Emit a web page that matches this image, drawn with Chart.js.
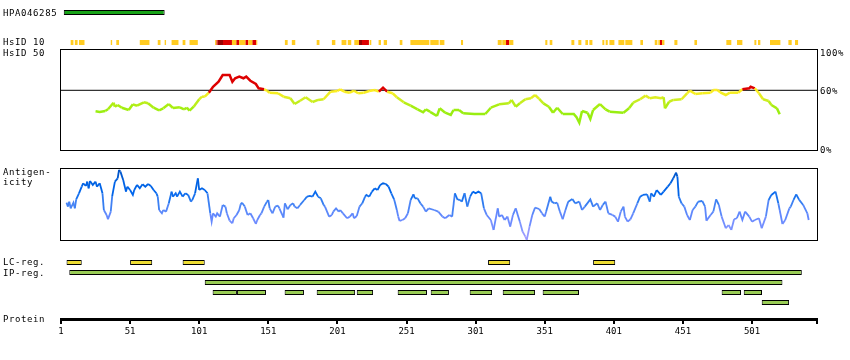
<!DOCTYPE html>
<html>
<head>
<meta charset="utf-8">
<script src="https://cdn.jsdelivr.net/npm/chart.js@4.4.1/dist/chart.umd.min.js"></script>
<style>
  html, body { margin: 0; padding: 0; background: #fff; }
</style>
</head>
<body>
<canvas id="protChart" width="850" height="360"></canvas>
<script>
// protein length and axis ticks
const protLen = 548;
const tickVals = [1, 51, 101, 151, 201, 251, 301, 351, 401, 451, 501, 548];

// antigen fragment
const hpaRange = [[3, 76]];

// HsID 10 blocks
const hs10Gold = [[8, 10], [11, 13], [14, 18], [37, 38], [41, 43], [58, 65], [71, 73], [76, 77], [81, 86], [89, 91], [94, 100],
  [112.5, 113.4], [124.7, 127.8], [129.8, 134.4], [136.5, 139.4], [142.3, 143], [163, 165], [168, 170.5], [186, 188],
  [197, 199.5], [204, 207.5], [208.5, 211], [213.2, 216.6], [224.3, 225.5], [230.8, 232.5], [234.5, 236.9], [246.1, 248],
  [253.8, 267.5], [268.2, 274.3], [275, 278.4], [290.4, 291.9], [317, 319.9], [320.3, 323], [325.2, 328.3], [351.4, 352.9],
  [354.6, 356.5], [370.3, 372.4], [375.3, 377.5], [380.4, 382.3], [383.3, 385.5], [392.7, 394.1], [395.1, 396.6],
  [397.8, 401.4], [404.3, 408.6], [409.3, 414.4], [420.2, 422.1], [430.6, 432.5], [433.2, 434.4], [435.9, 437.6],
  [444.8, 447], [459.3, 461.2], [482.4, 486], [490.1, 494], [502.7, 504.1], [505.3, 507], [514, 521.5], [527.3, 529.7],
  [532.1, 534.3]];
const hs10Red = [[113.4, 114.3], [118.2, 124.7], [127.8, 129.8], [134.4, 136.5], [139.4, 142.3], [218.8, 223.8],
  [323, 325.2], [434.4, 435.9]];
const hs10Dark = [[114.3, 118.2], [216.6, 218.8]];

// HsID 50 identity (%)
const hsPos = [26, 29, 33, 35, 39, 40, 42, 45, 50, 53, 56, 61, 64, 68, 72, 75, 79, 82, 87, 90, 92, 94, 97, 101, 103, 105,
  108, 111, 115, 118, 123, 125, 127, 130, 133, 135, 138, 142, 144, 148, 150, 152, 158, 162, 167, 170, 174, 178, 183, 187,
  191, 196, 201, 203, 206, 210, 213, 216, 220, 224, 228, 231, 234, 237, 241, 244, 249, 254, 259, 263, 265, 268, 269, 273,
  275, 279, 283, 285, 289, 292, 300, 308, 312, 318, 325, 327, 330, 333, 337, 341, 344, 347, 350, 354, 357, 360, 364, 372,
  374, 376, 378, 382, 384, 386, 391, 395, 398, 408, 412, 415, 420, 424, 427, 431, 435, 437, 438, 441, 444, 450, 454, 456,
  460, 465, 471, 473, 476, 478, 482, 485, 491, 494, 499, 500, 503, 506, 509, 513, 515, 519, 521];
const hsVal = [38.9, 38.2, 39.2, 40.9, 47.5, 43.5, 45.2, 42.5, 40.2, 45.9, 44.5, 47.9, 46.9, 42.5, 39.9, 41.9, 46.2, 42.2,
  42.9, 40.9, 42.5, 39.5, 43.5, 50.9, 53.6, 53.6, 57.6, 63.6, 68.6, 75.4, 75.4, 68.6, 72.1, 73.7, 72.1, 73.7, 69.6, 66.3,
  62, 61, 59.6, 57.6, 57, 53.6, 52, 46.2, 49.5, 53, 48.2, 50.3, 51, 58.6, 59.3, 61, 58.6, 57.6, 59.6, 57, 57.6, 59.3, 60.3,
  58.6, 62.6, 58.6, 57, 53, 47.9, 44.5, 40.9, 37.9, 40.9, 38.5, 37.5, 34.2, 41.9, 37.5, 35.2, 40.2, 40.2, 36.9, 36.2, 36.2,
  42.5, 45.9, 46.9, 50.3, 43.5, 46.9, 51, 52, 55.3, 51.3, 46.9, 43.5, 37.5, 42.5, 36.2, 36.2, 32.9, 27.5, 39.2, 37.5, 31.2,
  40.2, 46.2, 40.9, 38.5, 37.5, 41.9, 47.5, 51, 54.6, 52, 53, 52, 53, 41.9, 48.5, 50.3, 51, 57, 59.6, 56.3, 57, 57.6, 60.3,
  60.3, 58, 55.3, 57.6, 57.6, 61, 62, 63.6, 62, 57, 51, 49.2, 45.2, 41.9, 35.9];

// antigenicity (relative, 0 = panel bottom, 100 = panel top)
const agPos = [5, 6, 7, 8, 10, 11, 12, 14, 16, 17, 19, 20, 21, 22, 24, 26, 27, 29, 31, 32, 34, 35, 37, 38, 40, 42, 43, 44,
  46, 48, 49, 51, 53, 54, 56, 58, 60, 62, 64, 66, 68, 70, 71, 72, 74, 75, 77, 79, 81, 82, 84, 85, 87, 89, 91, 93, 95, 96,
  98, 100, 101, 103, 105, 107, 109, 110, 111, 113, 114, 116, 118, 120, 121, 123, 125, 126, 128, 130, 131, 132, 134, 136,
  138, 140, 142, 143, 145, 146, 148, 150, 151, 152, 154, 156, 158, 159, 162, 163, 165, 167, 169, 170, 172, 174, 177, 179,
  181, 183, 185, 187, 189, 191, 192, 195, 197, 198, 200, 202, 203, 205, 208, 210, 212, 213, 215, 217, 219, 221, 222, 224,
  226, 228, 230, 232, 234, 236, 238, 240, 242, 244, 245, 246, 248, 250, 252, 254, 256, 257, 259, 261, 263, 265, 267, 271,
  274, 277, 279, 282, 284, 286, 288, 289, 291, 293, 295, 297, 299, 301, 303, 305, 307, 309, 312, 314, 317, 318, 320, 322,
  324, 326, 328, 330, 333, 335, 337, 338, 340, 342, 344, 347, 349, 351, 352, 355, 356, 358, 360, 362, 364, 366, 368, 371,
  373, 376, 378, 380, 384, 386, 389, 391, 393, 395, 397, 400, 402, 404, 406, 408, 409, 411, 413, 415, 418, 420, 422, 425,
  427, 428, 430, 432, 435, 437, 440, 442, 444, 446, 447, 448, 450, 452, 454, 456, 458, 460, 462, 465, 467, 468, 471, 473,
  475, 477, 479, 482, 484, 486, 488, 490, 492, 494, 496, 499, 501, 503, 506, 508, 511, 513, 515, 518, 520, 521, 523, 525,
  528, 529, 531, 533, 535, 538, 541, 542];
const agVal = [52.3, 46.8, 53.7, 44.4, 52.3, 44.4, 56.9, 65.3, 74.5, 79.2, 75.5, 81.5, 72.2, 82.4, 76.9, 81.5, 74.5, 79.2,
  65.3, 42.1, 35.2, 29.2, 39.8, 60.6, 81.5, 86.1, 97.7, 95.4, 83.8, 67.6, 74.5, 69.9, 63, 69.9, 76.9, 72.2, 77.8, 74.5, 78.2,
  75.5, 69.9, 65.3, 60.6, 42.1, 37.5, 42.1, 39.8, 51.4, 67.6, 60.6, 65.3, 60.6, 67.6, 60.6, 65.3, 63, 53.7, 56, 65.3, 86.1,
  69.9, 72.2, 69.9, 65.3, 37.5, 25.9, 37.5, 32.9, 37.5, 32.9, 49.1, 46.8, 37.5, 27.3, 23.6, 30.6, 35.2, 42.1, 50, 52.3, 46.8,
  35.2, 37.5, 30.6, 22.7, 28.2, 35.2, 37.5, 46.8, 53.7, 56, 44.4, 37.5, 46.8, 48.1, 44.4, 31.5, 51.4, 43.1, 49.1, 51.4, 46.8,
  44.4, 49.1, 56, 60.6, 61.6, 60.6, 67.6, 60.6, 58.3, 49.1, 46.8, 32.9, 35.2, 39.8, 44.4, 39.8, 42.1, 37.5, 30.6, 32.9,
  37.5, 30.6, 33.8, 46.8, 51.4, 60.6, 63, 60.6, 67.6, 72.2, 69.9, 76.9, 79.2, 78.2, 74.5, 65.3, 56.9, 42.1, 32.9, 26.9,
  28.2, 30.6, 37.5, 56, 63.9, 58.3, 58.3, 51.4, 46.8, 39.8, 44.4, 42.1, 39.8, 32.9, 30.6, 35.2, 32.9, 65.3, 56, 56.9, 53.7,
  65.3, 46.8, 60.6, 67.6, 65.3, 67.6, 65.3, 44.4, 35.2, 28.2, 14.4, 44.4, 32.9, 35.2, 28.2, 32.9, 19, 35.2, 44.4, 25.9, 12,
  5.1, 0.5, 19, 35.2, 45.4, 43.5, 37.5, 32.9, 39.8, 60.6, 53.7, 51.4, 52.3, 39.8, 29.2, 42.1, 53.7, 57.4, 51.4, 53.7, 42.1,
  46.8, 56.9, 46.8, 51.4, 42.1, 49.1, 53.7, 37.5, 35.2, 32.9, 25.9, 39.8, 46.8, 32.9, 25.9, 29.2, 37.5, 51.4, 60.6, 63,
  63.9, 53.7, 65.3, 60.6, 69.9, 63, 67.6, 74.5, 79.2, 86.1, 94, 88.4, 60.6, 51.4, 46.8, 35.2, 28.2, 42.1, 46.8, 53.7, 54.6,
  46.8, 27.3, 35.2, 39.8, 56.9, 49.1, 32.9, 16.7, 21.3, 14.4, 29.2, 30.6, 39.8, 28.2, 39.8, 32.9, 25.9, 28.2, 30.6, 16.7,
  32.9, 56, 63, 67.6, 51.4, 42.1, 22.7, 28.2, 44.4, 46.8, 56, 63.9, 56.5, 49.1, 37.5, 28.2];

// low complexity and interpro regions
const lcRegions = [[5, 16], [51, 67], [89, 105], [310, 326], [386, 402]];
const ipRow1 = [[7, 537]];
const ipRow2 = [[105, 523]];
const ipRow3 = [[110.7, 128.3], [128.3, 149.3], [162.8, 176.8], [186, 213.8], [215, 226.8], [244.6, 265.8], [268.5, 281.7],
  [296.7, 312.9], [320.6, 344], [349.5, 375.8], [479, 493], [495, 508.2]];
const ipRow4 = [[508, 527.8]];

// row positions on the "rows" scale
const ROW = { hpa: -25, hs10: -22, lc: 0, ip1: 1, ip2: 2, ip3: 3, ip4: 4, axis: 5.68 };

// min/max so that value v0 lands on pixel p0 and v1 on p1 (chart area 0..360)
function fit(v0, p0, v1, p1) {
  const H = 360;
  const unit = (p0 - p1) / (v1 - v0);
  const min = v0 - (H - p0) / unit;
  return { min: min, max: min + H / unit };
}

function hexToRgb(h) {
  return [parseInt(h.slice(1, 3), 16), parseInt(h.slice(3, 5), 16), parseInt(h.slice(5, 7), 16)];
}
function ramp(stops, v) {
  if (v <= stops[0][0]) return stops[0][1];
  for (let i = 1; i < stops.length; i++) {
    if (v <= stops[i][0]) {
      const t = (v - stops[i - 1][0]) / (stops[i][0] - stops[i - 1][0]);
      const a = hexToRgb(stops[i - 1][1]), b = hexToRgb(stops[i][1]);
      const c = a.map((x, k) => Math.round(x + (b[k] - x) * t));
      return `rgb(${c[0]},${c[1]},${c[2]})`;
    }
  }
  return stops[stops.length - 1][1];
}
const hsStops = [[38, '#99ee11'], [44, '#aaee11'], [50, '#ccee22'], [55, '#eeee22'], [60.4, '#ffee22']];
function hsColor(v) {
  return v > 60.5 ? '#dd0000' : ramp(hsStops, v);
}
const agStops = [[0, '#aa99ff'], [15, '#8899ff'], [30, '#6688ff'], [45, '#5588f8'], [58, '#2277ee'], [66, '#0066ee'],
  [85, '#0060dd'], [96, '#0050c0']];

function bars(ranges, row) {
  return ranges.map(r => ({ x: r, y: row }));
}

const frame = '#000';
const boxBar = { type: 'bar', indexAxis: 'y', xAxisID: 'x', yAxisID: 'y', grouped: false, maxBarThickness: 5,
  borderWidth: 1, borderColor: frame, borderSkipped: false };
const flatBar = { type: 'bar', indexAxis: 'y', xAxisID: 'x', yAxisID: 'y', grouped: false, maxBarThickness: 5,
  borderWidth: 0 };

Chart.defaults.font.family = "'DejaVu Sans Mono', monospace";
Chart.defaults.font.size = 9;
Chart.defaults.color = '#000';

const panelPlugin = {
  id: 'panels',
  beforeDatasetsDraw(chart) {
    const { ctx, scales } = chart;
    const x0 = Math.round(scales.x.getPixelForValue(1)) - 0.5;
    const x1 = Math.round(scales.x.getPixelForValue(protLen)) + 0.5;
    ctx.save();
    ctx.strokeStyle = frame;
    ctx.lineWidth = 1;
    // identity panel
    let t = Math.round(scales.yHs.getPixelForValue(102)) + 0.5;
    let b = Math.round(scales.yHs.getPixelForValue(0)) + 0.5;
    ctx.strokeRect(x0, t, x1 - x0, b - t);
    // antigenicity panel
    t = Math.round(scales.yAg.getPixelForValue(100)) + 0.5;
    b = Math.round(scales.yAg.getPixelForValue(0)) + 0.5;
    ctx.strokeRect(x0, t, x1 - x0, b - t);
    ctx.restore();
  },
  afterDraw(chart) {
    const { ctx } = chart;
    ctx.save();
    ctx.fillStyle = '#000';
    ctx.font = "9px 'DejaVu Sans Mono'";
    ctx.letterSpacing = '0.6px';
    ctx.textBaseline = 'alphabetic';
    const left = [['HPA046285', 16], ['HsID 10', 45], ['HsID 50', 56], ['Antigen-', 175], ['icity', 185],
      ['LC-reg.', 265], ['IP-reg.', 276], ['Protein', 322]];
    left.forEach(([s, y]) => ctx.fillText(s, 3, y));
    const right = [['100%', 56], ['60%', 94], ['0%', 153]];
    right.forEach(([s, y]) => ctx.fillText(s, 820, y));
    ctx.restore();
  }
};

new Chart(document.getElementById('protChart'), {
  type: 'line',
  data: {
    datasets: [
      { ...boxBar, label: 'HPA046285', data: bars(hpaRange, ROW.hpa), backgroundColor: '#18a318' },
      { ...flatBar, label: 'HsID 10', data: bars(hs10Gold, ROW.hs10), backgroundColor: '#ffcc22' },
      { ...flatBar, label: 'HsID 10 high', data: bars(hs10Red, ROW.hs10), backgroundColor: '#dd0000' },
      { ...flatBar, label: 'HsID 10 top', data: bars(hs10Dark, ROW.hs10), backgroundColor: '#990000' },
      { type: 'line', label: '60%', xAxisID: 'x', yAxisID: 'yHs', data: [{ x: 1, y: 60 }, { x: protLen, y: 60 }],
        borderColor: frame, borderWidth: 1, pointRadius: 0, order: 5 },
      { type: 'line', label: 'HsID 50', xAxisID: 'x', yAxisID: 'yHs',
        data: hsPos.map((p, i) => ({ x: p, y: hsVal[i] })),
        borderColor: '#99ee11', borderWidth: 2.5, pointRadius: 0, tension: 0, order: 1,
        segment: { borderColor: c => hsColor((c.p0.parsed.y + c.p1.parsed.y) / 2) } },
      { type: 'line', label: 'Antigenicity', xAxisID: 'x', yAxisID: 'yAg',
        data: agPos.map((p, i) => ({ x: p, y: agVal[i] })),
        borderColor: '#0066ee', borderWidth: 1.8, pointRadius: 0, tension: 0, order: 1,
        segment: { borderColor: c => ramp(agStops, (c.p0.parsed.y + c.p1.parsed.y) / 2) } },
      { ...boxBar, label: 'LC-reg.', data: bars(lcRegions, ROW.lc), backgroundColor: '#eedd33' },
      { ...boxBar, label: 'IP-reg.', backgroundColor: '#99cc55',
        data: [...bars(ipRow1, ROW.ip1), ...bars(ipRow2, ROW.ip2), ...bars(ipRow3, ROW.ip3), ...bars(ipRow4, ROW.ip4)] }
    ]
  },
  options: {
    responsive: false,
    animation: false,
    devicePixelRatio: 1,
    events: [],
    layout: { padding: { left: 61, right: 33, top: 0, bottom: 0 } },
    plugins: { legend: { display: false }, tooltip: { enabled: false } },
    scales: {
      x: {
        type: 'linear', min: 1, max: protLen, offset: false,
        position: { y: ROW.axis },
        border: { display: true, color: frame, width: 3 },
        grid: { drawOnChartArea: false, drawTicks: true, tickLength: 3, color: frame, lineWidth: 2 },
        ticks: { autoSkip: false, maxRotation: 0, padding: 4, color: '#000',
          callback: v => (v === protLen ? '' : String(v)) },
        afterBuildTicks: s => { s.ticks = tickVals.map(v => ({ value: v })); }
      },
      y: { type: 'linear', display: false, offset: false, grace: 0, reverse: true, min: -26.25, max: 9.75 },
      yHs: { type: 'linear', display: false, offset: false, ...fit(0, 150, 100, 50.5) },
      yAg: { type: 'linear', display: false, offset: false, ...fit(0, 240.3, 100, 168.3) }
    }
  },
  plugins: [panelPlugin]
});
</script>
</body>
</html>
